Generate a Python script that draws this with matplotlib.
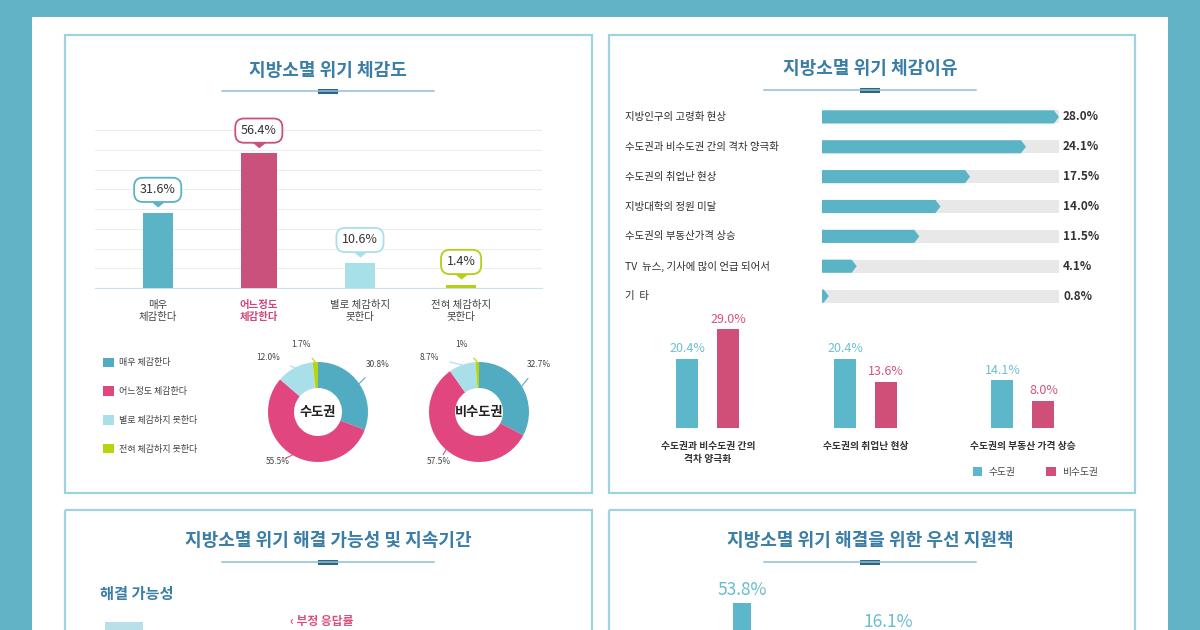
import numpy as np
import matplotlib
matplotlib.use("Agg")
import matplotlib.pyplot as plt
import matplotlib.transforms as mtransforms
from matplotlib.patches import Rectangle, Polygon

plt.rcParams['font.family'] = ['Noto Sans CJK KR', 'DejaVu Sans']

# === Data ===
sense_labels = ['매우\n체감한다', '어느정도\n체감한다', '별로 체감하지\n못한다', '전혀 체감하지\n못한다']
sense_legend = ['매우 체감한다', '어느정도 체감한다', '별로 체감하지 못한다', '전혀 체감하지 못한다']
sense_values = [31.6, 56.4, 10.6, 1.4]

metro_values = [30.8, 55.5, 12.0, 1.7]
metro_pct = ['30.8%', '55.5%', '12.0%', '1.7%']
nonmetro_values = [32.7, 57.5, 8.7, 1.1]
nonmetro_pct = ['32.7%', '57.5%', '8.7%', '1%']

reason_labels = ['지방인구의 고령화 현상', '수도권과 비수도권 간의 격차 양극화', '수도권의 취업난 현상',
                 '지방대학의 정원 미달', '수도권의 부동산가격 상승', 'TV  뉴스, 기사에 많이 언급 되어서', '기  타']
reason_values = [28.0, 24.1, 17.5, 14.0, 11.5, 4.1, 0.8]

compare_labels = ['수도권과 비수도권 간의\n격차 양극화', '수도권의 취업난 현상', '수도권의 부동산 가격 상승']
compare_metro = [20.4, 20.4, 14.1]
compare_nonmetro = [29.0, 13.6, 8.0]
series_names = ['수도권', '비수도권']

support_values = [53.8, 16.1]

# === Style ===
W, H = 1200, 630
FRAME = '#62b3c5'
BORDER = '#9fd3df'
TITLE = '#3a7da6'
TEAL = '#5bb4c6'
RASP = '#c9517b'
LIGHT = '#a8e0ea'
LIME = '#b5cf14'
DONUT = ['#52acc1', '#e2467f', '#a9dfe8', '#b9d40f']


def px_rect(x0, y0, x1, y1):
    return [x0 / W, 1 - y1 / H, (x1 - x0) / W, (y1 - y0) / H]


fig = plt.figure(figsize=(12, 6.3), dpi=100)
bg = fig.add_axes([0, 0, 1, 1])
bg.set_xlim(0, W)
bg.set_ylim(H, 0)
bg.axis('off')

# outer frame
bg.add_patch(Rectangle((0, 0), 32, H, color=FRAME, lw=0))
bg.add_patch(Rectangle((1168, 0), 32, H, color=FRAME, lw=0))
bg.add_patch(Rectangle((0, 0), W, 17, color=FRAME, lw=0))

# panels
for x0, y0, x1, y1 in [(65, 35, 592, 493), (609, 35, 1135, 493),
                       (65, 510, 592, 700), (609, 510, 1135, 700)]:
    bg.add_patch(Rectangle((x0, y0), x1 - x0, y1 - y0, fill=False, ec=BORDER, lw=1.6))

titles = [('지방소멸 위기 체감도', 328, 70, 91), ('지방소멸 위기 체감이유', 870, 69, 90),
          ('지방소멸 위기 해결 가능성 및 지속기간', 328, 541, 562),
          ('지방소멸 위기 해결을 위한 우선 지원책', 870, 541, 562)]
for text, cx, ty, ly in titles:
    bg.text(cx, ty, text, ha='center', va='center', fontsize=13, fontweight='bold', color=TITLE)
    bg.plot([cx - 106, cx + 106], [ly, ly], color='#8fbfd4', lw=1.1)
    bg.add_patch(Rectangle((cx - 10, ly - 2.5), 20, 5, color='#2f6582', lw=0))

# === Panel 1: bars with callouts ===
ax1 = fig.add_axes(px_rect(95, 128, 542, 288))
ax1.patch.set_alpha(0)
x = np.arange(len(sense_values))
colors1 = [TEAL, RASP, LIGHT, LIME]
ax1.bar(x, sense_values, width=[0.3, 0.36, 0.3, 0.3], color=colors1, zorder=3)
ax1.set_xlim(-0.62, 3.8)
ax1.set_ylim(0, 67)
ax1.set_yticks(np.linspace(0, 66, 9))
ax1.grid(axis='y', color='#ededed', lw=0.8, zorder=0)
for s in ['top', 'right', 'left']:
    ax1.spines[s].set_visible(False)
ax1.spines['bottom'].set_color('#c4e3ea')
ax1.tick_params(left=False, labelleft=False, bottom=False, pad=5)
ax1.set_xticks(x, sense_labels, fontsize=7.5, color='#444444', linespacing=1.3)
ax1.get_xticklabels()[1].set_color('#d0457a')
ax1.get_xticklabels()[1].set_fontweight('bold')

pointer = [(-1, 0.4), (1, 0.4), (0, -0.4)]
ax1.scatter(x, np.array(sense_values) + 3.8, marker=pointer, s=160, c=colors1, zorder=4, clip_on=False)
for xi, v, c in zip(x, sense_values, colors1):
    ax1.text(xi, v + 9.5, f'{v}%', ha='center', va='center', fontsize=9, color='#333333', zorder=5,
             bbox=dict(boxstyle='round,pad=0.45,rounding_size=0.7', fc='white', ec=c, lw=1.3), clip_on=False)

# legend + donuts
label_offsets = [(1.2, 0.95), (-0.8, -1.0), (-1.0, 1.1), (-0.35, 1.35)]


def draw_donut(cx, cy, values, pct, name):
    ax = fig.add_axes(px_rect(cx - 85, cy - 85, cx + 85, cy + 85))
    ax.patch.set_alpha(0)
    wedges, _ = ax.pie(values, colors=DONUT, startangle=90, counterclock=False, radius=1,
                       wedgeprops=dict(width=0.52, edgecolor='none'))
    ax.set_xlim(-1.7, 1.7)
    ax.set_ylim(-1.7, 1.7)
    ax.set_aspect('equal')
    ax.axis('off')
    for w, lab, (tx, ty), c in zip(wedges, pct, label_offsets, DONUT):
        ang = np.deg2rad((w.theta1 + w.theta2) / 2)
        ax.annotate(lab, xy=(np.cos(ang), np.sin(ang)), xytext=(tx, ty), ha='center', va='center',
                    fontsize=6, color='#444444',
                    arrowprops=dict(arrowstyle='-', color=c, lw=0.8, shrinkA=6, shrinkB=0))
    ax.text(0, 0, name, ha='center', va='center', fontsize=9.5, fontweight='bold', color='#222222')
    return wedges


wedges = draw_donut(318, 412, metro_values, metro_pct, '수도권')
draw_donut(479, 412, nonmetro_values, nonmetro_pct, '비수도권')
fig.legend(wedges, sense_legend, loc='upper left', bbox_to_anchor=(98 / W, 1 - 353 / H), frameon=False,
           fontsize=6.5, labelspacing=2.1, handlelength=1.25, handleheight=1.25, handletextpad=0.6,
           borderpad=0, labelcolor='#444444')

# === Panel 2: reason bars ===
ax2 = fig.add_axes(px_rect(822, 102, 1059, 311))
ax2.patch.set_alpha(0)
rows = np.arange(len(reason_values))
vmax = max(reason_values)
ax2.barh(rows, [vmax] * len(rows), height=0.44, color='#e8e8e8', zorder=1)
tip = 0.6
for r, v in zip(rows, reason_values):
    t = min(tip, v)
    h = 0.22
    ax2.add_patch(Polygon([(0, r - h), (v - t, r - h), (v, r), (v - t, r + h), (0, r + h)],
                          closed=True, color=TEAL, lw=0, zorder=2))
ax2.set_xlim(0, vmax)
ax2.set_ylim(len(rows) - 0.5, -0.5)
ax2.axis('off')
label_tr = mtransforms.blended_transform_factory(bg.transData, ax2.transData)
for r, lab, v in zip(rows, reason_labels, reason_values):
    ax2.text(625, r, lab, transform=label_tr, ha='left', va='center', fontsize=7.5, color='#2e2e2e')
    ax2.text(1.017, r, f'{v:.1f}%', transform=ax2.get_yaxis_transform(), ha='left', va='center',
             fontsize=8.5, fontweight='bold', color='#333333')

# grouped comparison
ax3 = fig.add_axes(px_rect(630, 322, 1100, 428))
ax3.patch.set_alpha(0)
g = np.arange(len(compare_labels))
b1 = ax3.bar(g - 0.13, compare_metro, width=0.14, color='#5cb7ca', label=series_names[0])
b2 = ax3.bar(g + 0.13, compare_nonmetro, width=0.14, color='#cf4f79', label=series_names[1])
for bars, vals, c in [(b1, compare_metro, '#6cc0d2'), (b2, compare_nonmetro, '#d5527d')]:
    for rect, v in zip(bars, vals):
        ax3.text(rect.get_x() + rect.get_width() / 2, v + 1.0, f'{v:.1f}%', ha='center', va='bottom',
                 fontsize=9, color=c, clip_on=False)
ax3.set_xlim(-0.495, 2.49)
ax3.set_ylim(0, 31.2)
for s in ax3.spines.values():
    s.set_visible(False)
ax3.tick_params(left=False, labelleft=False, bottom=False, pad=6)
ax3.set_xticks(g, compare_labels, fontsize=7, color='#333333', fontweight='bold', linespacing=1.3)
fig.legend(handles=[b1, b2], labels=series_names, loc='center left', bbox_to_anchor=(964 / W, 1 - 472 / H),
           ncol=2, frameon=False, fontsize=7, handlelength=1.0, handleheight=1.0, columnspacing=3.2,
           handletextpad=0.6, labelcolor='#444444')

# === Panel 3 (cut off at the bottom) ===
bg.text(100, 594, '해결 가능성', ha='left', va='center', fontsize=11, fontweight='bold', color=TITLE)
bg.add_patch(Rectangle((105, 622), 38, 20, color='#b9e0e9', lw=0))
bg.text(290, 622, '‹ 부정 응답률', ha='left', va='center', fontsize=8.5, fontweight='bold', color='#d9507b')

# === Panel 4 (cut off at the bottom) ===
ax4 = fig.add_axes(px_rect(630, 575, 1110, 657))
ax4.patch.set_alpha(0)
s_pos = np.arange(len(support_values))
ax4.bar(s_pos, support_values, width=0.13, color='#5cb7ca')
for p, v in zip(s_pos, support_values):
    ax4.text(p, max(v + 4, 26), f'{v}%', ha='center', va='bottom', fontsize=12.5, color='#67bccd')
ax4.set_xlim(-0.767, 2.52)
ax4.set_ylim(0, 82)
ax4.axis('off')

fig.savefig('out.png', dpi=100, facecolor='white')
